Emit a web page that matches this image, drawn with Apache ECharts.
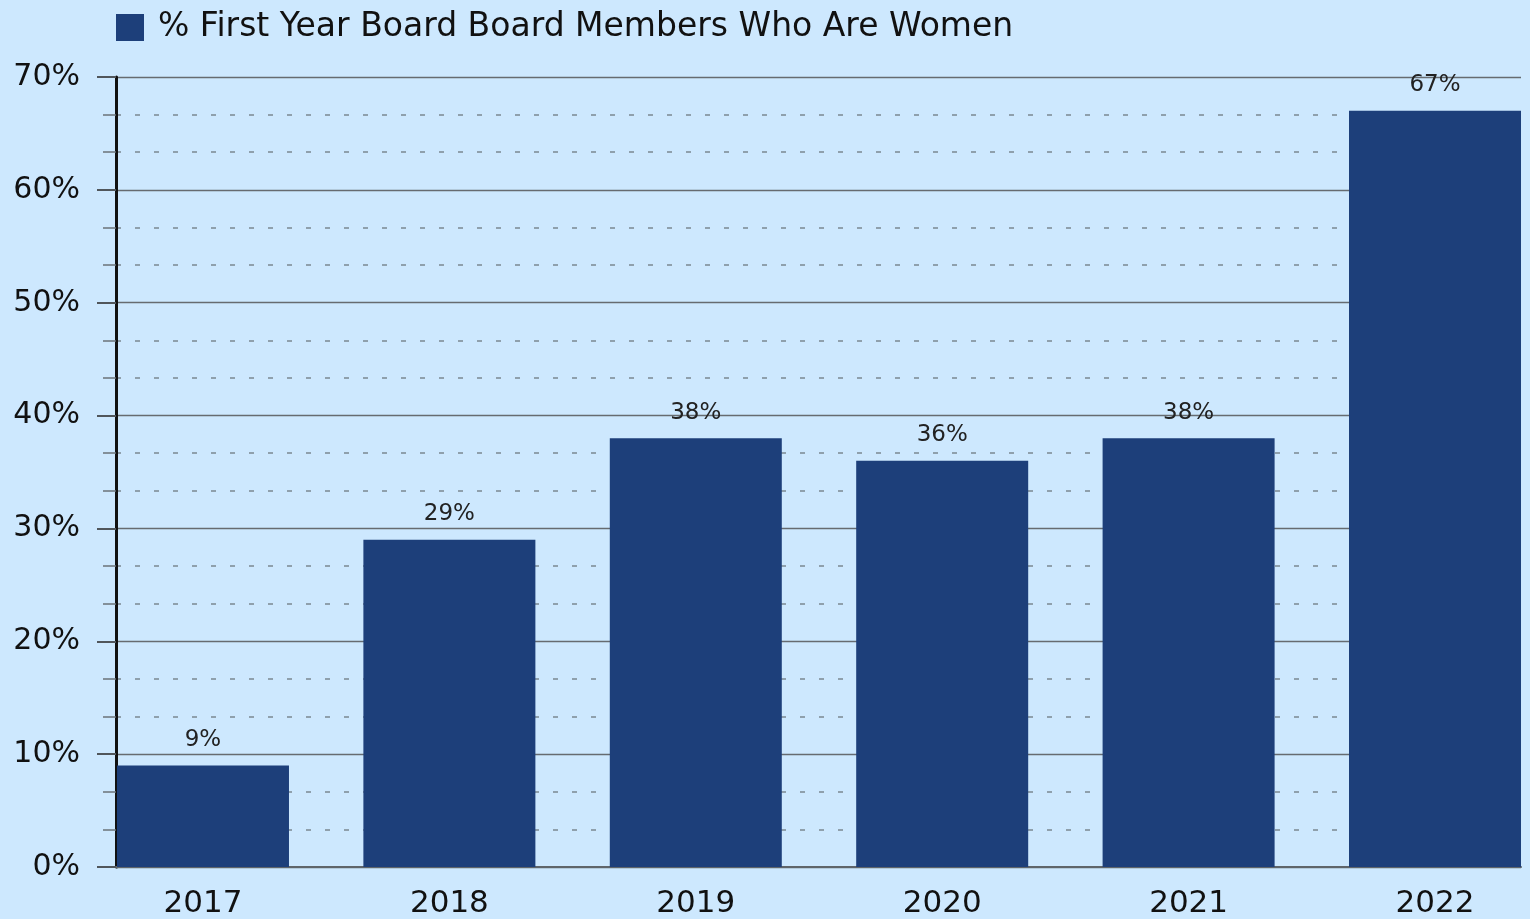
<!DOCTYPE html>
<html>
<head>
<meta charset="utf-8">
<script src="https://cdn.jsdelivr.net/npm/echarts@6/dist/echarts.min.js"></script>
<style>
  html, body { margin: 0; padding: 0; background: #cde8fe; }
  #chart { width: 1530px; height: 919px; }
</style>
</head>
<body>
<div id="chart"></div>
<script>
// years and share of first year board members who are women (%)
var years = ['2017', '2018', '2019', '2020', '2021', '2022'];
var womenPct = [9, 29, 38, 36, 38, 67];
var yTicks = [0, 10, 20, 30, 40, 50, 60, 70];
var seriesName = '% First Year Board Board Members Who Are Women';

var font = 'DejaVu Sans';

var barData = [];
for (var i = 0; i < years.length; i++) {
	barData.push([i, womenPct[i]]);
}
var yearIdx = [];
for (i = 0; i < years.length; i++) yearIdx.push(i);

var myChart = echarts.init(document.getElementById('chart'));
var option = {
	backgroundColor: '#cde8fe',
	animation: false,
	legend: {
		left: 116,
		top: 11,
		padding: 0,
		itemWidth: 28,
		itemHeight: 27,
		icon: 'rect',
		textStyle: { fontFamily: font, fontSize: 33, color: '#111', padding: [0, 0, 0, 9] },
		data: [seriesName]
	},
	grid: { left: 116, right: 9, top: 77, bottom: 52 },
	xAxis: {
		type: 'value',
		min: -0.353,
		max: 5.349,
		splitLine: { show: false },
		axisLine: { show: true, onZero: false, lineStyle: { color: '#5f656a', width: 2 } },
		axisTick: { show: false },
		axisLabel: {
			customValues: yearIdx,
			formatter: function (v) { return years[Math.round(v)]; },
			fontFamily: font,
			fontSize: 31,
			color: '#111',
			margin: 21
		}
	},
	yAxis: {
		type: 'value',
		min: yTicks[0],
		max: yTicks[yTicks.length - 1],
		interval: 10,
		axisLine: { show: true, onZero: false, lineStyle: { color: '#111', width: 3 } },
		axisTick: { show: true, length: 19, lineStyle: { color: '#50565b', width: 2 } },
		minorTick: { show: true, splitNumber: 3, length: 13, lineStyle: { color: '#6b7379', width: 1.5 } },
		splitLine: { show: true, lineStyle: { color: '#666b70', width: 1.3 } },
		minorSplitLine: { show: true, lineStyle: { color: '#7b8891', width: 1.5, type: [5, 14] } },
		axisLabel: {
			formatter: '{value}%',
			fontFamily: font,
			fontSize: 30,
			color: '#111',
			margin: 36
		}
	},
	series: [{
		name: seriesName,
		type: 'bar',
		barWidth: 172,
		itemStyle: { color: '#1d3f7a' },
		label: {
			show: true,
			position: 'top',
			distance: 14,
			formatter: function (p) { return p.value[1] + '%'; },
			fontFamily: font,
			fontSize: 23,
			color: '#222'
		},
		data: barData
	}]
};

myChart.setOption(option);
</script>
</body>
</html>
